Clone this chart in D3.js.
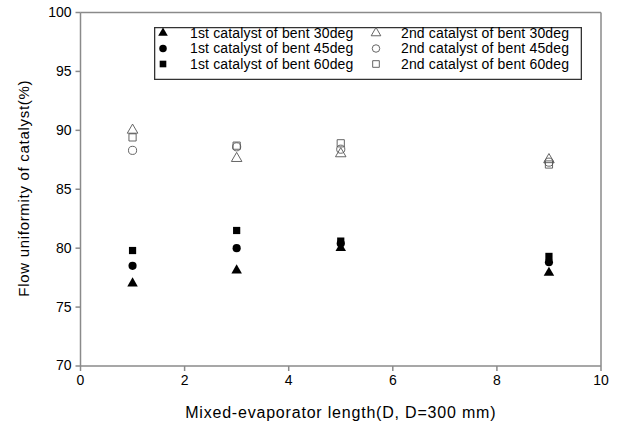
<!DOCTYPE html>
<html>
<head>
<meta charset="utf-8">
<script src="https://cdn.jsdelivr.net/npm/d3@7"></script>
<style>
  body { margin: 0; background: #fff; }
  text { font-family: "Liberation Sans", Arial, sans-serif; }
</style>
</head>
<body>
<script>
// data
const lengths = [1, 3, 5, 9];
const first30 = [77.1, 78.2, 80.1, 78.0];
const first45 = [78.5, 80.0, 80.4, 78.8];
const first60 = [79.8, 81.5, 80.6, 79.3];
const second30 = [90.1, 87.7, 88.1, 87.6];
const second45 = [88.3, 88.6, 88.4, 87.3];
const second60 = [89.4, 88.7, 88.9, 87.1];
const xTicks = [0, 2, 4, 6, 8, 10];
const yTicks = [70, 75, 80, 85, 90, 95, 100];

const series = [
  {name: "1st catalyst of bent 30deg", values: first30, shape: d3.symbolTriangle, filled: true},
  {name: "1st catalyst of bent 45deg", values: first45, shape: d3.symbolCircle, filled: true},
  {name: "1st catalyst of bent 60deg", values: first60, shape: d3.symbolSquare, filled: true},
  {name: "2nd catalyst of bent 30deg", values: second30, shape: d3.symbolTriangle, filled: false},
  {name: "2nd catalyst of bent 45deg", values: second45, shape: d3.symbolCircle, filled: false},
  {name: "2nd catalyst of bent 60deg", values: second60, shape: d3.symbolSquare, filled: false}
];

const width = 617, height = 425;
const margin = {top: 12.5, right: 16, bottom: 59, left: 80.5};

const svg = d3.select("body").append("svg")
    .attr("width", width)
    .attr("height", height);

const x = d3.scaleLinear().domain([0, 10]).range([margin.left, width - margin.right]);
const y = d3.scaleLinear().domain([70, 100]).range([height - margin.bottom, margin.top]);

const axisColor = "#8a8a8a";

// frame: top and right edges
svg.append("line")
    .attr("x1", x(0)).attr("x2", x(10))
    .attr("y1", y(100)).attr("y2", y(100))
    .style("stroke", axisColor).style("stroke-width", 1.5);
svg.append("line")
    .attr("x1", x(10)).attr("x2", x(10))
    .attr("y1", y(100)).attr("y2", y(70))
    .style("stroke", axisColor).style("stroke-width", 1.5);

// axes
const xAxis = svg.append("g")
    .attr("transform", "translate(0," + y(70) + ")")
    .call(d3.axisBottom(x).tickValues(xTicks).tickSize(5).tickPadding(4).tickSizeOuter(0).offset(0));
const yAxis = svg.append("g")
    .attr("transform", "translate(" + x(0) + ",0)")
    .call(d3.axisLeft(y).tickValues(yTicks).tickSize(5).tickPadding(4).tickSizeOuter(0).offset(0));

[xAxis, yAxis].forEach(function (a) {
  a.select(".domain").style("stroke", axisColor).style("stroke-width", 1.5);
  a.selectAll(".tick line").style("stroke", axisColor).style("stroke-width", 1.5);
  a.selectAll(".tick text")
      .attr("fill", "#000")
      .style("font-size", "14px")
      .style("font-family", "Liberation Sans, Arial, sans-serif");
});

// axis titles
svg.append("text")
    .attr("x", (x(0) + x(10)) / 2)
    .attr("y", 418)
    .attr("text-anchor", "middle")
    .style("font-size", "16px")
    .style("letter-spacing", "0.8px")
    .text("Mixed-evaporator length(D, D=300 mm)");

svg.append("text")
    .attr("transform", "translate(29," + (y(85) - 1) + ") rotate(-90)")
    .attr("text-anchor", "middle")
    .style("font-size", "15px")
    .style("letter-spacing", "0.7px")
    .text("Flow uniformity of catalyst(%)");

// points
function markerStyle(sel, s) {
  sel.style("fill", s.filled ? "#000" : "none")
     .style("stroke", s.filled ? "none" : "#555")
     .style("stroke-width", 0.9);
}

series.forEach(function (s) {
  const sym = d3.symbol().type(s.shape).size(s.shape === d3.symbolTriangle ? 48 : 52);
  svg.append("g").selectAll("path")
      .data(s.values)
      .enter()
      .append("path")
        .attr("d", sym)
        .attr("transform", function (d, i) {
          const dy = s.shape === d3.symbolTriangle ? 1 : 0;
          return "translate(" + x(lengths[i]) + "," + (y(d) + dy) + ")";
        })
        .call(markerStyle, s);
});

// legend box as a filled ring
const lx0 = 154, ly0 = 27, lx1 = 582, ly1 = 80, bw = 1.3;
svg.append("path")
    .attr("d",
      "M" + lx0 + "," + ly0 + "H" + lx1 + "V" + ly1 + "H" + lx0 + "Z" +
      "M" + (lx0 + bw) + "," + (ly0 + bw) + "V" + (ly1 - bw) + "H" + (lx1 - bw) + "V" + (ly0 + bw) + "Z")
    .attr("fill", "#333")
    .attr("fill-rule", "evenodd");

const legend = svg.append("g").selectAll("g")
    .data(series)
    .enter()
    .append("g")
      .attr("transform", function (d, i) {
        const col = Math.floor(i / 3), row = i % 3;
        return "translate(" + (col === 0 ? 163 : 376) + "," + (33 + row * 15.5) + ")";
      });

legend.append("path")
    .attr("d", function (d) {
      return d3.symbol().type(d.shape).size(d.shape === d3.symbolTriangle ? 40 : 44)();
    })
    .each(function (d) { d3.select(this).call(markerStyle, d); });

legend.append("text")
    .attr("x", function (d, i) { return i < 3 ? 27 : 25; })
    .attr("dy", "0.35em")
    .style("font-size", "14px")
    .style("letter-spacing", "0.15px")
    .text(function (d) { return d.name; });
</script>
</body>
</html>
